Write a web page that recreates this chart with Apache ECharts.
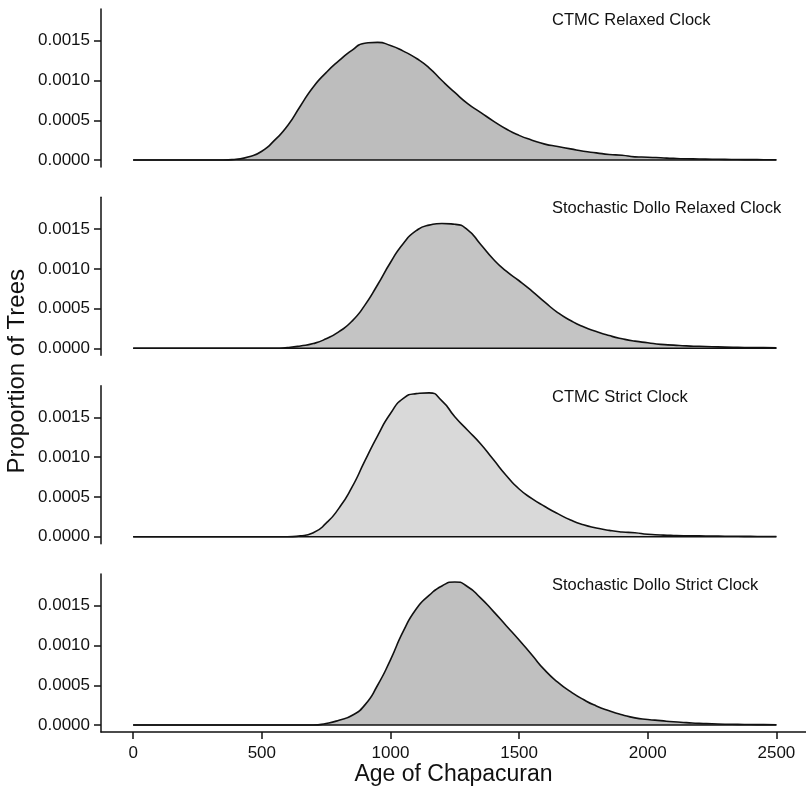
<!DOCTYPE html>
<html>
<head>
<meta charset="utf-8">
<script src="https://cdn.jsdelivr.net/npm/echarts@6/dist/echarts.min.js"></script>
<style>
  html, body { margin: 0; padding: 0; background: #fff; }
  #chart { width: 806px; height: 790px; }
</style>
</head>
<body>
<div id="chart"></div>
<script>
  // age grid (years), shared by every panel
  let ages = [0, 50, 100, 150, 200, 250, 300, 350, 400, 450, 500, 550, 600, 650, 700, 750, 800, 850, 900, 950,
    1000, 1050, 1100, 1150, 1200, 1250, 1300, 1350, 1400, 1450, 1500, 1550, 1600, 1650, 1700, 1750, 1800, 1850, 1900, 1950,
    2000, 2050, 2100, 2150, 2200, 2250, 2300, 2350, 2400, 2450, 2500]

  let ctmcRelaxed = [0, 0, 0, 0, 0, 0, 0, 0, 0.00001, 0.00004, 0.00011, 0.00025, 0.00043, 0.00068, 0.00092, 0.00110, 0.00125, 0.00138, 0.00147, 0.00148,
    0.00144, 0.00137, 0.00128, 0.00116, 0.00100, 0.00085, 0.00071, 0.00060, 0.00049, 0.00039, 0.00031, 0.00025, 0.00020, 0.00017, 0.00014, 0.00011, 0.00009, 0.00007, 0.00006, 0.00004,
    0.000035, 0.000028, 0.00002, 0.000015, 0.000013, 0.00001, 0.000008, 0.000006, 0.000005, 0.000004, 0.000003]

  let dolloRelaxed = [0, 0, 0, 0, 0, 0, 0, 0, 0, 0, 0, 0, 0.00001, 0.00003, 0.00006, 0.00012, 0.00021, 0.00034, 0.00054, 0.00080,
    0.00108, 0.00132, 0.00148, 0.00155, 0.00157, 0.00156, 0.00149, 0.00131, 0.00112, 0.00097, 0.00085, 0.00072, 0.00058, 0.00045, 0.00035, 0.00027, 0.00021, 0.00016, 0.00012, 0.00009,
    0.00007, 0.00005, 0.00004, 0.00003, 0.000025, 0.00002, 0.000015, 0.000012, 0.00001, 0.000008, 0.000006]

  let ctmcStrict = [0, 0, 0, 0, 0, 0, 0, 0, 0, 0, 0, 0, 0, 0.00001, 0.00005, 0.00017, 0.00036, 0.00062, 0.00095, 0.00127,
    0.00155, 0.00174, 0.00180, 0.00181, 0.00171, 0.00151, 0.00134, 0.00117, 0.00097, 0.00077, 0.00060, 0.00048, 0.00038, 0.00029, 0.00021, 0.00015, 0.00011, 0.00008, 0.00006, 0.00005,
    0.00003, 0.000022, 0.000016, 0.000012, 0.00001, 0.000008, 0.000006, 0.000005, 0.000004, 0.000003, 0.000002]

  let dolloStrict = [0, 0, 0, 0, 0, 0, 0, 0, 0, 0, 0, 0, 0, 0, 0, 0.00002, 0.00006, 0.00012, 0.00025, 0.00050,
    0.00082, 0.00118, 0.00146, 0.00163, 0.00175, 0.00180, 0.00174, 0.00160, 0.00143, 0.00125, 0.00107, 0.00088, 0.00069, 0.00054, 0.00042, 0.00032, 0.00024, 0.00018, 0.00013, 0.00009,
    0.00007, 0.000055, 0.00004, 0.00003, 0.00002, 0.000015, 0.00001, 0.000008, 0.000006, 0.000005, 0.000004]

  let panelNames = ['CTMC Relaxed Clock', 'Stochastic Dollo Relaxed Clock', 'CTMC Strict Clock', 'Stochastic Dollo Strict Clock']
  let panelData = [ctmcRelaxed, dolloRelaxed, ctmcStrict, dolloStrict]
  let panelFills = ['#bdbdbd', '#c4c4c4', '#d9d9d9', '#c0c0c0']
  let yTicks = [0, 0.0005, 0.001, 0.0015]
  let xTicks = [0, 500, 1000, 1500, 2000, 2500]

  let tops = [9, 197.3, 385.7, 574]
  let font = 'Liberation Sans, Arial, Helvetica, sans-serif'

  let grids = []
  let xAxes = []
  let yAxes = []
  let series = []
  let titles = []

  panelData.forEach((vals, i) => {
    let last = i === panelData.length - 1
    grids.push({ left: 101, right: 0, top: tops[i], height: 158, outerBoundsMode: 'none' })
    xAxes.push({
      type: 'value',
      gridIndex: i,
      min: -125,
      max: 2615,
      show: last,
      splitLine: { show: false },
      axisLine: { show: true, onZero: false, lineStyle: { color: '#111', width: 1.5 } },
      axisTick: { show: true, customValues: xTicks, length: 7, lineStyle: { color: '#111', width: 1.5 } },
      axisLabel: { customValues: xTicks, color: '#111', fontSize: 17, fontFamily: font, margin: 13, formatter: v => String(v) },
      name: last ? 'Age of Chapacuran' : '',
      nameLocation: 'middle',
      nameGap: 31,
      nameTextStyle: { color: '#111', fontSize: 23, fontFamily: font }
    })
    yAxes.push({
      type: 'value',
      gridIndex: i,
      min: -0.000088,
      max: 0.0019,
      splitLine: { show: false },
      axisLine: { show: true, onZero: false, lineStyle: { color: '#111', width: 1.5 } },
      axisTick: { show: true, customValues: yTicks, length: 7, lineStyle: { color: '#111', width: 1.5 } },
      axisLabel: {
        customValues: yTicks,
        color: '#111',
        fontSize: 17,
        fontFamily: font,
        margin: 11,
        formatter: v => v.toFixed(4)
      }
    })
    series.push({
      type: 'line',
      xAxisIndex: i,
      yAxisIndex: i,
      data: ages.map((a, k) => [a, vals[k]]),
      smooth: 0.6,
      showSymbol: false,
      lineStyle: { color: '#111', width: 1.6 },
      areaStyle: { color: panelFills[i], opacity: 1, origin: 0 },
      z: 2
    })
    // baseline of the density polygon
    series.push({
      type: 'line',
      xAxisIndex: i,
      yAxisIndex: i,
      data: [[ages[0], 0], [ages[ages.length - 1], 0]],
      showSymbol: false,
      lineStyle: { color: '#111', width: 1.6 },
      z: 3
    })
    titles.push({
      text: panelNames[i],
      left: 552,
      top: tops[i] + 3,
      padding: 0,
      textStyle: { color: '#111', fontSize: 16.5, fontWeight: 'normal', fontFamily: font }
    })
  })

  let chart = echarts.init(document.getElementById('chart'))
  chart.setOption({
    animation: false,
    backgroundColor: '#fff',
    title: titles,
    grid: grids,
    xAxis: xAxes,
    yAxis: yAxes,
    series: series,
    graphic: [{
      type: 'text',
      left: 5,
      top: 269,
      rotation: Math.PI / 2,
      style: {
        text: 'Proportion of Trees',
        fill: '#111',
        font: '24px ' + font
      }
    }]
  })
</script>
</body>
</html>
